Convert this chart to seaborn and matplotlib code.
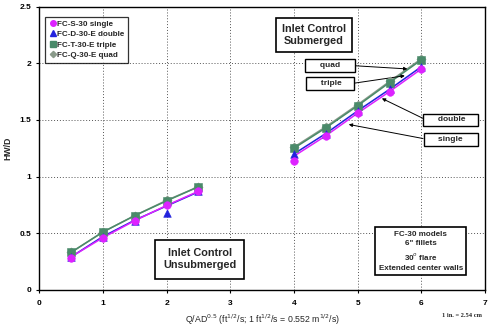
import matplotlib
matplotlib.use("Agg")
import matplotlib.pyplot as plt
import seaborn as sns
import pandas as pd
from matplotlib.lines import Line2D

sns.set_theme(style="white")
plt.rcParams['font.family'] = ['Liberation Sans', 'DejaVu Sans']

# ---- data ----
x_low = [0.5, 1.0, 1.5, 2.0, 2.5]
x_high = [4.0, 4.5, 5.0, 5.5, 6.0]

single_low = [0.28, 0.46, 0.61, 0.75, 0.87]
double_low = [0.29, 0.47, 0.61, 0.68, 0.87]
triple_low = [0.33, 0.51, 0.655, 0.78, 0.91]
quad_low = [0.33, 0.51, 0.655, 0.79, 0.91]

single_high = [1.14, 1.36, 1.56, 1.75, 1.95]
double_high = [1.20, 1.38, 1.58, 1.77, 1.97]
triple_high = [1.25, 1.43, 1.62, 1.83, 2.03]
quad_high = [1.26, 1.44, 1.63, 1.84, 2.04]

# trend-line values (lines drawn through the fitted curve)
single_fit_low = [0.29, 0.46, 0.61, 0.745, 0.87]
double_fit_low = [0.29, 0.47, 0.615, 0.74, 0.865]
triple_fit_low = [0.33, 0.51, 0.655, 0.785, 0.91]
quad_fit_low = [0.33, 0.51, 0.655, 0.79, 0.91]
single_fit_high = [1.18, 1.36, 1.56, 1.75, 1.95]
double_fit_high = [1.20, 1.38, 1.58, 1.77, 1.97]
triple_fit_high = [1.25, 1.43, 1.625, 1.83, 2.03]
quad_fit_high = [1.26, 1.44, 1.635, 1.84, 2.04]

series = ["FC-S-30 single", "FC-D-30-E double", "FC-T-30-E triple", "FC-Q-30-E quad"]
colors = ["#dd22ff", "#2222dd", "#4a8a6a", "#8a9a8a"]
markers = ["o", "^", "s", "D"]
msizes = [30, 30, 28, 22]

pts = {"FC-S-30 single": (single_low, single_high),
       "FC-D-30-E double": (double_low, double_high),
       "FC-T-30-E triple": (triple_low, triple_high),
       "FC-Q-30-E quad": (quad_low, quad_high)}
fits = {"FC-S-30 single": (single_fit_low, single_fit_high),
        "FC-D-30-E double": (double_fit_low, double_fit_high),
        "FC-T-30-E triple": (triple_fit_low, triple_fit_high),
        "FC-Q-30-E quad": (quad_fit_low, quad_fit_high)}

rows_p, rows_f = [], []
for s in series:
    lo, hi = pts[s]
    flo, fhi = fits[s]
    for xv, yv in zip(x_low, lo):
        rows_p.append((s, "low", xv, yv))
    for xv, yv in zip(x_high, hi):
        rows_p.append((s, "high", xv, yv))
    for xv, yv in zip(x_low, flo):
        rows_f.append((s, "low", xv, yv))
    for xv, yv in zip(x_high, fhi):
        rows_f.append((s, "high", xv, yv))
dfp = pd.DataFrame(rows_p, columns=["series", "seg", "x", "y"])
dff = pd.DataFrame(rows_f, columns=["series", "seg", "x", "y"])

fig = plt.figure(figsize=(4.95, 3.32), dpi=100)
ax = fig.add_axes([0.079, 0.127, 0.901, 0.853])

line_order = ["FC-Q-30-E quad", "FC-T-30-E triple", "FC-D-30-E double", "FC-S-30 single"]
for s in line_order:
    i = series.index(s)
    for seg in ["low", "high"]:
        d = dff[(dff.series == s) & (dff.seg == seg)]
        sns.lineplot(data=d, x="x", y="y", ax=ax, color=colors[i], lw=1.1,
                     legend=False, sort=True, estimator=None)
for s in line_order:
    i = series.index(s)
    d = dfp[dfp.series == s]
    sns.scatterplot(data=d, x="x", y="y", ax=ax, color=colors[i], marker=markers[i],
                    s=msizes[i], edgecolor=colors[i], linewidth=0.4, legend=False, zorder=5)

ax.set_xlim(0, 7)
ax.set_ylim(0, 2.5)
ax.set_xticks(range(0, 8))
ax.set_yticks([0, 0.5, 1, 1.5, 2, 2.5])
ax.set_yticklabels(["0", "0.5", "1", "1.5", "2", "2.5"])
ax.tick_params(axis="both", labelsize=6, length=2.5, width=0.8, direction="out", pad=3,
               bottom=True, left=True, colors="black")
ax.tick_params(axis="x", pad=5)
for lab in ax.get_xticklabels() + ax.get_yticklabels():
    lab.set_fontweight("bold")
for sp in ax.spines.values():
    sp.set_color("black")
    sp.set_linewidth(1.0)
ax.grid(True, linestyle=(0, (1, 2)), color="#555555", linewidth=0.7)
ax.set_axisbelow(True)

ax.set_xlabel("Q/AD$^{0.5}$ (ft$^{1/2}$/s; 1 ft$^{1/2}$/s = 0.552 m$^{1/2}$/s)",
              fontsize=6.3, labelpad=4)
ax.set_ylabel("HW/D", fontsize=6.3, fontweight="bold", labelpad=5)
ax.text(6.63, -0.225, "1 in. = 2.54 cm", fontsize=4.6, fontweight="bold",
        ha="center", va="center", family="Liberation Serif")

# legend
handles = [Line2D([], [], linestyle="none", marker=markers[i], color=colors[i],
                  markersize=4 if markers[i] != "D" else 3.2, label=series[i])
           for i in range(4)]
leg = ax.legend(handles=handles, loc="upper left", bbox_to_anchor=(0.013, 0.965),
                fontsize=5.8, frameon=True, fancybox=False, edgecolor="black",
                handletextpad=0.05, borderpad=0.45, labelspacing=0.35, handlelength=1.0,
                borderaxespad=0)
leg.get_frame().set_linewidth(0.9)
for t in leg.get_texts():
    t.set_fontweight("bold")

ax.text(4.31, 2.25, "Inlet Control\nSubmerged", fontsize=7.8, fontweight="bold",
        ha="center", va="center", linespacing=1.3,
        bbox=dict(boxstyle="square,pad=0.55", fc="white", ec="black", lw=1.2))
ax.text(2.52, 0.27, "Inlet Control\nUnsubmerged", fontsize=7.8, fontweight="bold",
        ha="center", va="center", linespacing=1.3,
        bbox=dict(boxstyle="square,pad=0.75", fc="white", ec="black", lw=1.2))
ax.text(5.99, 0.34, "FC-30 models\n6\" fillets\n30$^o$ flare\nExtended center walls",
        fontsize=5.8, fontweight="bold", ha="center", va="center", linespacing=1.45,
        bbox=dict(boxstyle="square,pad=0.45", fc="white", ec="black", lw=1.2))

small_box = dict(boxstyle="square,pad=0.35", fc="white", ec="black", lw=1.0)
arrow = dict(arrowstyle="-|>", color="black", lw=0.7, mutation_scale=5, shrinkA=0, shrinkB=0)
ax.annotate("     quad     ", xy=(5.78, 1.95), xytext=(4.56, 1.98), fontsize=6,
            fontweight="bold", ha="center", va="center", bbox=small_box,
            arrowprops=dict(arrow, relpos=(1, 0.5)))
ax.annotate("     triple    ", xy=(5.74, 1.89), xytext=(4.56, 1.82), fontsize=6,
            fontweight="bold", ha="center", va="center", bbox=small_box,
            arrowprops=dict(arrow, relpos=(1, 0.5)))
ax.annotate("     double    ", xy=(5.38, 1.69), xytext=(6.46, 1.50), fontsize=6,
            fontweight="bold", ha="center", va="center", bbox=small_box,
            arrowprops=dict(arrow, relpos=(0, 0.5)))
ax.annotate("     single     ", xy=(4.86, 1.46), xytext=(6.46, 1.33), fontsize=6,
            fontweight="bold", ha="center", va="center", bbox=small_box,
            arrowprops=dict(arrow, relpos=(0, 0.5)))

fig.savefig("out.png", dpi=100)
